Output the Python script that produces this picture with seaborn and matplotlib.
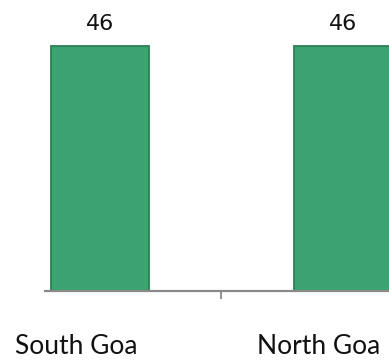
import matplotlib
matplotlib.use("Agg")
import matplotlib.pyplot as plt
import matplotlib.transforms as mtransforms
import seaborn as sns
import pandas as pd

# data
districts = ["South Goa", "North Goa"]
counts = [46, 46]

df = pd.DataFrame({"District": districts, "Count": counts})

sns.set_theme(style="white")
plt.rcParams["font.family"] = ["Lato", "DejaVu Sans"]

fig = plt.figure(figsize=(3.89, 3.60), dpi=100)
# axes from x=45px to the right edge, baseline at y=291px
ax = fig.add_axes([45 / 389, 69 / 360, 344 / 389, 291 / 360])

sns.barplot(data=df, x="District", y="Count", color="#3AA36F", saturation=1,
            width=0.4, edgecolor="#2C8056", linewidth=1.3, ax=ax, zorder=2)

ax.set_xlim(-0.226, 1.189)
ax.set_ylim(0, 46 * 291 / 245)

for c in ax.containers:
    ax.bar_label(c, labels=[str(v) for v in counts], padding=9,
                 fontsize=16, family="DejaVu Sans", color="#111111")

for s in ["top", "right", "left"]:
    ax.spines[s].set_visible(False)
ax.spines["bottom"].set_color("#898989")
ax.spines["bottom"].set_linewidth(1.6)

ax.set_yticks([])
ax.set_xticks([0, 1])
ax.set_xticklabels(districts, fontsize=19, color="#111111")
ax.tick_params(axis="x", which="major", bottom=True, length=0, pad=31)
ax.set_xticks([0.5], minor=True)
ax.tick_params(axis="x", which="minor", bottom=True, length=6, width=1.3,
               color="#898989")

# category labels sit a little left of the bar centres
offset = mtransforms.ScaledTranslation(-24 / 100, 0, fig.dpi_scale_trans)
for lbl in ax.get_xticklabels():
    lbl.set_transform(lbl.get_transform() + offset)

ax.set_xlabel("")
ax.set_ylabel("")

fig.savefig("out.png", dpi=100)
